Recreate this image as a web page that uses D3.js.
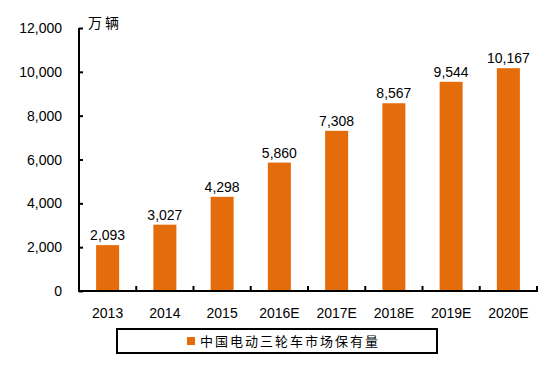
<!DOCTYPE html>
<html><head><meta charset="utf-8">
<script src="https://cdn.jsdelivr.net/npm/d3@7/dist/d3.min.js"></script>
<style>body{margin:0;background:#fff}svg{display:block}</style>
</head><body>
<svg id="c" width="548" height="367"></svg>
<script>
const categories = ["2013","2014","2015","2016E","2017E","2018E","2019E","2020E"];
const values = [2093,3027,4298,5860,7308,8567,9544,10167];
const yTicks = [0,2000,4000,6000,8000,10000,12000];
const unitLabel = "万辆";
const seriesName = "中国电动三轮车市场保有量";

const svg = d3.select("#c");
const color = "#E46C0A";
const font = "'Liberation Sans', Arial, sans-serif";
const X0 = 79, X1 = 537, Y0 = 291, YT = 28;
const xb = d3.scaleBand().domain(categories).range([X0, X1]);
const y = d3.scaleLinear().domain([0, 12000]).range([Y0, YT]);
const barW = 23;

// bars
svg.selectAll("rect.bar").data(values).enter().append("rect")
  .attr("x", (d,i) => xb(categories[i]) + xb.bandwidth()/2 - barW/2)
  .attr("width", barW)
  .attr("y", d => y(d)).attr("height", d => y(0) - y(d))
  .attr("fill", color);

// value labels
svg.selectAll("text.val").data(values).enter().append("text")
  .attr("x", (d,i) => xb(categories[i]) + xb.bandwidth()/2)
  .attr("y", d => y(d) - 5)
  .attr("text-anchor", "middle")
  .attr("font-family", font).attr("font-size", 14).attr("fill", "#000")
  .text(d => d3.format(",")(d));

// y axis
const yAxis = d3.axisRight(y).tickValues(yTicks).tickSize(4).tickFormat("");
const gy = svg.append("g").attr("transform", `translate(${X0},0)`).call(yAxis);
gy.select(".domain").attr("stroke", "#000").attr("stroke-width", 2).attr("d", `M0,${YT}V${Y0}`);
gy.selectAll(".tick line").attr("stroke", "#000").attr("stroke-width", 2);
svg.selectAll("text.yl").data(yTicks).enter().append("text")
  .attr("x", 62).attr("y", d => y(d) + 5)
  .attr("text-anchor", "end")
  .attr("font-family", font).attr("font-size", 14).attr("fill", "#000")
  .text(d => d3.format(",")(d));

// x axis
const xAxis = d3.axisTop(xb).tickSize(0).tickFormat("");
const gx = svg.append("g").attr("transform", `translate(0,${Y0})`).call(xAxis);
gx.select(".domain").attr("stroke", "#000").attr("stroke-width", 2).attr("d", `M${X0-1},0H${X1+1}`);
const bounds = categories.map(c => xb(c)).concat([X1]);
svg.selectAll("line.xt").data(bounds).enter().append("line")
  .attr("x1", d => d).attr("x2", d => d).attr("y1", Y0).attr("y2", Y0 - 5)
  .attr("stroke", "#000").attr("stroke-width", 2);
svg.selectAll("text.xl").data(categories).enter().append("text")
  .attr("x", d => xb(d) + xb.bandwidth()/2)
  .attr("y", 318)
  .attr("text-anchor", "middle")
  .attr("font-family", font).attr("font-size", 14).attr("fill", "#000")
  .text(d => d);

// unit label
svg.append("text").attr("x", 88).attr("y", 28)
  .attr("font-family", "'Noto Sans CJK SC', sans-serif").attr("font-size", 14).attr("fill", "#000")
  .attr("letter-spacing", 3)
  .text(unitLabel);

// legend
svg.append("rect").attr("x", 117).attr("y", 329).attr("width", 320).attr("height", 24)
  .attr("fill", "#fff").attr("stroke", "#000").attr("stroke-width", 2);
svg.append("rect").attr("x", 187).attr("y", 337).attr("width", 8).attr("height", 8).attr("fill", color);
svg.append("text").attr("x", 200).attr("y", 346)
  .attr("font-family", "'Noto Sans CJK SC', sans-serif").attr("font-size", 13).attr("fill", "#000")
  .attr("letter-spacing", 2)
  .text(seriesName);
</script>
</body></html>
